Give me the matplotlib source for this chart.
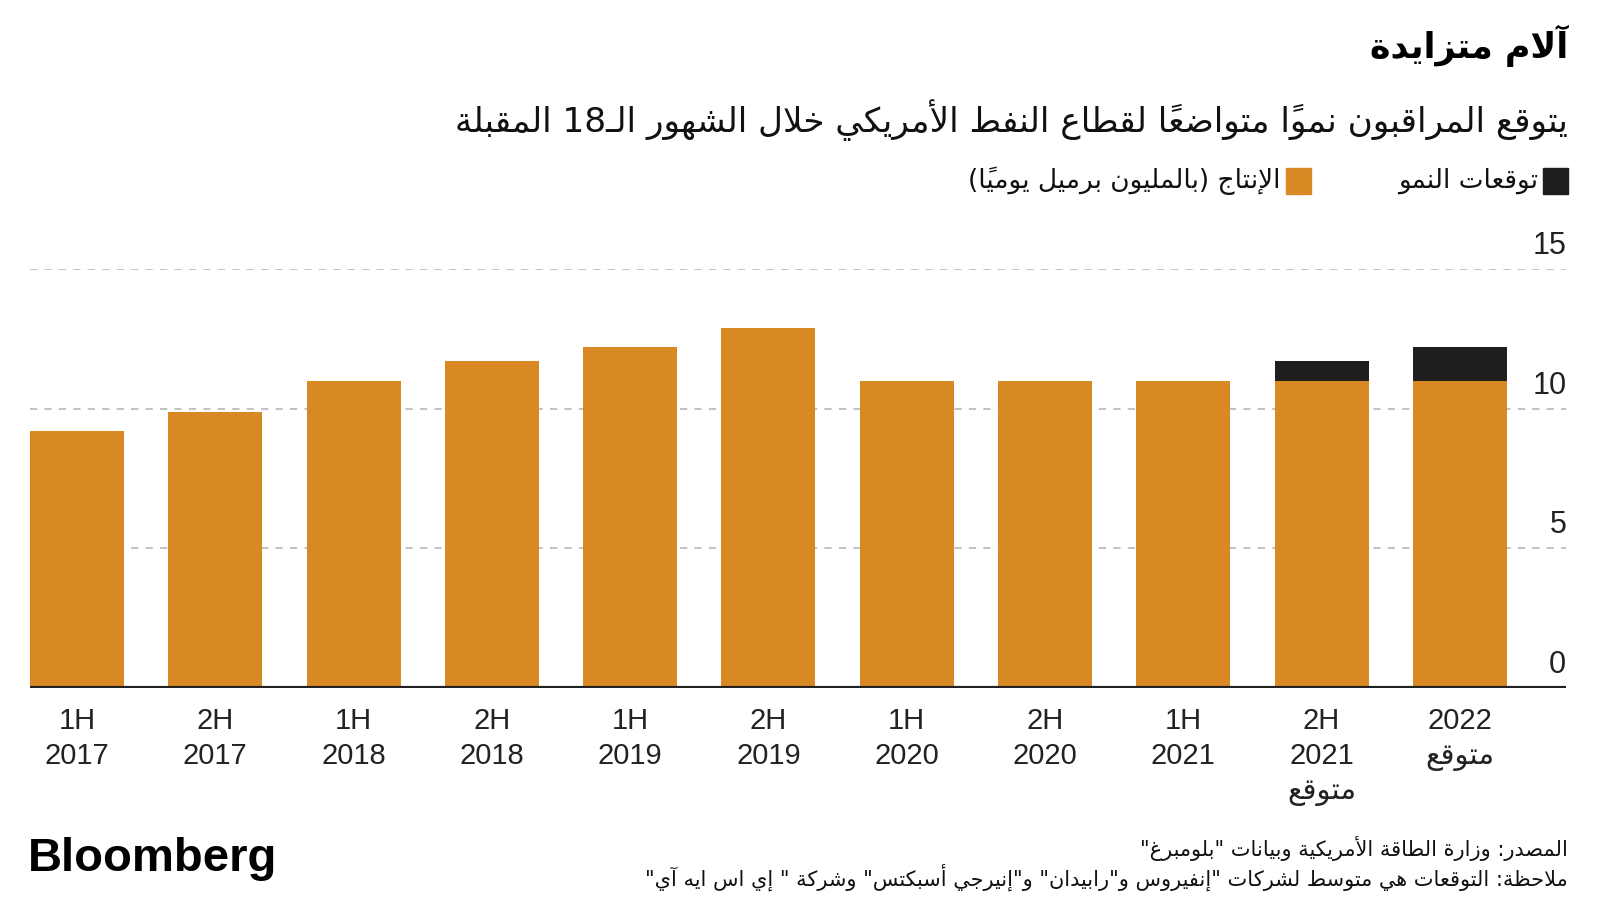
import matplotlib
matplotlib.use('Agg')
import matplotlib.pyplot as plt
from matplotlib.patches import Rectangle
from matplotlib.transforms import blended_transform_factory, offset_copy

# data (million barrels a day)
periods = ['1H\n2017', '2H\n2017', '1H\n2018', '2H\n2018', '1H\n2019', '2H\n2019',
           '1H\n2020', '2H\n2020', '1H\n2021', '2H\n2021\nمتوقع', '2022\nمتوقع']
production = [9.2, 9.9, 11.0, 11.7, 12.2, 12.9, 11.0, 11.0, 11.0, 11.0, 11.0]
growth = [0, 0, 0, 0, 0, 0, 0, 0, 0, 0.7, 1.2]
yticks = [0, 5, 10, 15]

title = 'آلام متزايدة'
subtitle = 'يتوقع المراقبون نمواً متواضعاً لقطاع النفط الأمريكي خلال الشهور الـ18 المقبلة'
leg_growth = 'توقعات النمو'
leg_prod = 'الإنتاج (بالمليون برميل يومياً)'
source = 'المصدر: وزارة الطاقة الأمريكية وبيانات "بلومبرغ"'
note = 'ملاحظة: التوقعات هي متوسط لشركات "إنفيروس و"رابيدان" و"إنيرجي أسبكتس" وشركة " إي اس ايه آي"'

ORANGE = '#D98923'
BLACK = '#1E1E1E'

# --- tiny arabic shaper, matplotlib does no shaping / bidi on its own ---
_tab = [('ء', 0xFE80, 1), ('آ', 0xFE81, 2), ('أ', 0xFE83, 2), ('ؤ', 0xFE85, 2), ('إ', 0xFE87, 2),
        ('ئ', 0xFE89, 4), ('ا', 0xFE8D, 2), ('ب', 0xFE8F, 4), ('ة', 0xFE93, 2), ('ت', 0xFE95, 4),
        ('ث', 0xFE99, 4), ('ج', 0xFE9D, 4), ('ح', 0xFEA1, 4), ('خ', 0xFEA5, 4), ('د', 0xFEA9, 2),
        ('ذ', 0xFEAB, 2), ('ر', 0xFEAD, 2), ('ز', 0xFEAF, 2), ('س', 0xFEB1, 4), ('ش', 0xFEB5, 4),
        ('ص', 0xFEB9, 4), ('ض', 0xFEBD, 4), ('ط', 0xFEC1, 4), ('ظ', 0xFEC5, 4), ('ع', 0xFEC9, 4),
        ('غ', 0xFECD, 4), ('ف', 0xFED1, 4), ('ق', 0xFED5, 4), ('ك', 0xFED9, 4), ('ل', 0xFEDD, 4),
        ('م', 0xFEE1, 4), ('ن', 0xFEE5, 4), ('ه', 0xFEE9, 4), ('و', 0xFEED, 2), ('ى', 0xFEEF, 2),
        ('ي', 0xFEF1, 4)]
FORMS = {c: (start, n) for c, start, n in _tab}
LAMALEF = {'آ': 0xFEF5, 'أ': 0xFEF7, 'إ': 0xFEF9, 'ا': 0xFEFB}
TATWEEL = 'ـ'


def is_mark(c):
    return '\u064B' <= c <= '\u0652' or c == '\u0670'


def shape(s):
    ch = list(s)
    n = len(ch)

    def prev_joins(k):
        j = k - 1
        while j >= 0 and is_mark(ch[j]):
            j -= 1
        return j >= 0 and (ch[j] == TATWEEL or (ch[j] in FORMS and FORMS[ch[j]][1] == 4))

    def next_char(k):
        j = k + 1
        while j < n and is_mark(ch[j]):
            j += 1
        return j

    out = []
    i = 0
    while i < n:
        c = ch[i]
        if c not in FORMS:
            out.append(c)
            i += 1
            continue
        start, cnt = FORMS[c]
        p = prev_joins(i)
        j = next_char(i)
        if c == 'ل' and j < n and ch[j] in LAMALEF:
            out.append(chr(LAMALEF[ch[j]] + (1 if p else 0)))
            out.extend(ch[i + 1:j])
            i = j + 1
            continue
        nx = cnt == 4 and j < n and (ch[j] == TATWEEL or (ch[j] in FORMS and FORMS[ch[j]][1] > 1))
        if cnt == 1:
            f = 0
        elif cnt == 2:
            f = 1 if p else 0
        else:
            f = 3 if (p and nx) else 1 if p else 2 if nx else 0
        out.append(chr(start + f))
        i += 1
    return ''.join(out)


def visual(s):
    s = shape(s)
    tokens = []
    for c in s:
        if c.isascii() and c.isalnum() and tokens and tokens[-1][-1].isascii() and tokens[-1][-1].isalnum():
            tokens[-1] += c
        elif is_mark(c) and tokens:
            tokens[-1] += c
        else:
            tokens.append(c)
    mirror = {'(': ')', ')': '('}
    return ''.join(mirror.get(t, t) for t in reversed(tokens))


def ar(s):
    return '\n'.join(visual(line) for line in s.split('\n'))


AR = ['DejaVu Sans']
NUM = ['Liberation Sans Narrow', 'Liberation Sans', 'DejaVu Sans']

fig = plt.figure(figsize=(16, 9), dpi=100)
ax = fig.add_axes([0.01875, 0.2356, 0.9602, 0.4652])

x = list(range(len(periods)))
ax.bar(x, production, width=0.68, color=ORANGE, zorder=2)
ax.bar(x, growth, width=0.68, bottom=production, color=BLACK, zorder=2)

ax.set_xlim(-0.34, 10.77)
ax.set_ylim(0, 15)
for v in yticks[1:]:
    ax.axhline(v, color='#BDBDBD', lw=1.3, ls=(0, (4, 4)), zorder=1)
ax.axhline(0, color='#222222', lw=3, zorder=3)

ax.set_yticks([])
ax.set_xticks(x)
ax.set_xticklabels([ar(p) for p in periods], family=NUM, fontsize=21, color='#222222',
                   linespacing=1.3, va='top')
ax.tick_params(axis='x', length=0, pad=14)
for sp in ax.spines.values():
    sp.set_visible(False)

tr = offset_copy(blended_transform_factory(ax.transAxes, ax.transData), fig=fig, y=11, units='points')
for v in yticks:
    ax.text(1.0, v, str(v), transform=tr, ha='right', va='baseline', fontsize=22,
            family=NUM, color='#222222')

# titles
fig.text(0.980, 0.949, ar(title), ha='right', va='center', fontsize=25, fontweight='bold',
         family=AR, color='black')
fig.text(0.980, 0.867, ar(subtitle), ha='right', va='center', fontsize=24.7, family=AR, color='#111111')

# legend
def legend_item(xr, color, label):
    fig.add_artist(Rectangle(((xr - 25) / 1600, 1 - 194 / 900), 25 / 1600, 26 / 900,
                             transform=fig.transFigure, color=color))
    fig.text((xr - 30) / 1600, 1 - 181 / 900, ar(label), ha='right', va='center',
             fontsize=19, family=AR, color='#111111')

legend_item(1568, BLACK, leg_growth)
legend_item(1311, ORANGE, leg_prod)

# footer
fig.text(0.0175, 0.046, 'Bloomberg', ha='left', va='center', fontsize=34, fontweight='bold',
         family=['Liberation Sans', 'DejaVu Sans'], color='black')
fig.text(0.980, 0.057, ar(source), ha='right', va='center', fontsize=15, family=AR, color='#111111')
fig.text(0.980, 0.025, ar(note), ha='right', va='center', fontsize=15, family=AR, color='#111111')

fig.savefig('out.png', dpi=100)
